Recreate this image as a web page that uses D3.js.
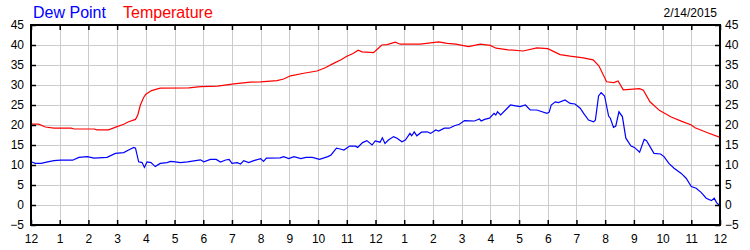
<!DOCTYPE html>
<html>
<head>
<meta charset="utf-8">
<title>Dew Point / Temperature</title>
<script src="https://d3js.org/d3.v7.min.js"></script>
<style>
  body { margin: 0; background: #fff; }
  svg text { font-family: Arial, "Liberation Sans", sans-serif; }
</style>
</head>
<body>
<div id="chart"></div>
<script>
// hours since midnight, readings in degrees
var tempHours = [0, 0.27, 0.5, 0.8, 1.4, 1.5, 2.2, 2.3, 2.7, 3.0, 3.23, 3.4, 3.64, 3.72, 3.81, 3.92, 4.0, 4.2, 4.5, 5.5,
  5.9, 6.5, 7.07, 7.64, 8.0, 8.57, 8.8, 9.04, 9.55, 9.96, 10.25, 10.54, 10.8, 11.0, 11.2, 11.4, 11.53, 11.93, 12.1, 12.22,
  12.4, 12.69, 12.86, 13.56, 14.2, 14.5, 14.8, 15.24, 15.65, 16.0, 16.2, 16.62, 17.14, 17.62, 18.0, 18.43, 18.78, 19.24, 19.58, 19.78,
  20.05, 20.3, 20.45, 20.63, 21.2, 21.33, 21.56, 21.9, 22.3, 22.67, 23.0, 23.13, 23.59, 24];
var tempValues = [20.2, 20.2, 19.5, 19.2, 19.2, 19.0, 19.0, 18.8, 18.8, 19.6, 20.2, 20.8, 21.4, 22.5, 25.0, 26.8, 27.7, 28.6, 29.2, 29.3,
  29.6, 29.7, 30.3, 30.7, 30.8, 31.1, 31.5, 32.3, 33.0, 33.5, 34.3, 35.4, 36.3, 37.2, 37.8, 38.7, 38.3, 38.1, 39.2, 40.0,
  40.1, 40.7, 40.2, 40.2, 40.8, 40.4, 40.2, 39.6, 40.2, 39.9, 39.2, 38.8, 38.5, 39.3, 39.1, 37.6, 37.2, 36.8, 36.3, 34.8,
  30.8, 30.6, 31.0, 28.8, 29.1, 28.7, 25.8, 23.6, 22.0, 20.9, 20.0, 19.3, 18.0, 16.9];

var dewHours = [0, 0.15, 0.35, 0.58, 0.8, 1.03, 1.45, 1.67, 1.96, 2.2, 2.65, 2.94, 3.23, 3.4, 3.58, 3.64, 3.75, 3.87, 3.95, 4.04,
  4.18, 4.33, 4.5, 4.74, 4.86, 5.03, 5.2, 5.45, 5.9, 6.02, 6.25, 6.45, 6.6, 6.78, 6.9, 7.0, 7.18, 7.3, 7.41, 7.58,
  7.76, 8.0, 8.1, 8.2, 8.68, 8.8, 8.98, 9.16, 9.4, 9.58, 9.8, 10.05, 10.34, 10.45, 10.64, 10.77, 10.9, 11.1, 11.3, 11.38,
  11.55, 11.7, 11.88, 11.99, 12.16, 12.24, 12.33, 12.45, 12.63, 12.75, 12.92, 13.04, 13.2, 13.26, 13.35, 13.44, 13.6, 13.8, 13.92, 14.1,
  14.2, 14.4, 14.57, 14.75, 14.92, 15.1, 15.45, 15.62, 15.68, 15.8, 15.97, 16.13, 16.19, 16.25, 16.36, 16.7, 16.88, 17.04, 17.22, 17.39,
  17.62, 17.97, 18.05, 18.12, 18.26, 18.37, 18.6, 18.78, 18.95, 19.13, 19.25, 19.42, 19.6, 19.66, 19.77, 19.86, 19.98, 20.12, 20.18, 20.29,
  20.37, 20.48, 20.6, 20.72, 20.9, 21.02, 21.2, 21.36, 21.44, 21.7, 21.93, 22.05, 22.22, 22.4, 22.65, 22.82, 23.0, 23.17, 23.35, 23.52,
  23.7, 23.8, 23.88, 24];
var dewValues = [10.8, 10.4, 10.4, 10.8, 11.1, 11.2, 11.2, 11.9, 12.1, 11.7, 11.9, 12.9, 13.1, 13.75, 14.4, 14.2, 10.8, 10.6, 9.4, 10.75,
  10.6, 9.6, 10.4, 10.6, 10.9, 10.8, 10.6, 10.8, 11.3, 10.8, 11.4, 11.4, 10.75, 11.25, 11.4, 10.4, 10.6, 10.25, 11.1, 10.6,
  11.1, 11.6, 10.9, 11.7, 11.8, 12.1, 11.6, 12.1, 11.6, 11.9, 11.9, 11.4, 12.1, 12.5, 14.2, 14.0, 13.75, 14.75, 14.7, 14.4,
  15.6, 16.1, 15.0, 16.0, 15.7, 16.8, 15.4, 16.25, 17.1, 16.7, 15.8, 16.25, 17.9, 17.3, 18.3, 17.3, 18.2, 18.3, 17.9, 18.75,
  18.5, 19.2, 19.2, 19.8, 20.2, 21.1, 21.0, 21.5, 21.0, 21.4, 21.7, 22.9, 22.5, 23.3, 22.5, 25.0, 24.8, 24.6, 25.0, 23.75,
  23.75, 22.9, 23.2, 25.0, 25.8, 25.6, 26.25, 25.4, 25.25, 24.2, 22.9, 21.25, 20.8, 21.25, 27.25, 28.1, 27.25, 22.25, 21.7, 19.4,
  19.75, 23.3, 22.1, 16.7, 14.75, 14.4, 13.2, 16.4, 16.1, 12.9, 12.75, 12.1, 10.4, 9.2, 7.9, 6.7, 4.6, 4.2, 3.1, 1.7,
  1.1, 1.7, 0.6, -0.2];

var hourTicks = d3.range(0, 25);
var hourLabels = ["12","1","2","3","4","5","6","7","8","9","10","11","12","1","2","3","4","5","6","7","8","9","10","11","12"];
var valueTicks = [-5, 0, 5, 10, 15, 20, 25, 30, 35, 40, 45];

var width = 750, height = 250;
var plotLeft = 31, plotRight = 720, plotTop = 25, plotBottom = 225;

var svg = d3.select("#chart").append("svg")
    .attr("width", width)
    .attr("height", height);

svg.append("rect").attr("width", width).attr("height", height).attr("fill", "#fff");

var x = d3.scaleLinear().domain([0, 24]).range([plotLeft, plotRight]);
var y = d3.scaleLinear().domain([-5, 45]).range([plotBottom, plotTop]);

// grid
var grid = svg.append("g").attr("stroke", "#cccccc").attr("stroke-width", 1);
grid.selectAll(".vg").data(hourTicks.slice(1, -1)).enter().append("line")
    .attr("x1", function(d) { return Math.round(x(d)) + 0.5; })
    .attr("x2", function(d) { return Math.round(x(d)) + 0.5; })
    .attr("y1", plotTop).attr("y2", plotBottom);
grid.selectAll(".hg").data(valueTicks.slice(1, -1)).enter().append("line")
    .attr("y1", function(d) { return y(d) + 0.5; })
    .attr("y2", function(d) { return y(d) + 0.5; })
    .attr("x1", plotLeft).attr("x2", plotRight);

// series
var line = d3.line()
    .x(function(d) { return x(d[0]); })
    .y(function(d) { return y(d[1]); });

svg.append("path")
    .datum(d3.zip(tempHours, tempValues))
    .attr("fill", "none")
    .attr("stroke", "#ff0000")
    .attr("stroke-width", 1.2)
    .attr("d", line);

svg.append("path")
    .datum(d3.zip(dewHours, dewValues))
    .attr("fill", "none")
    .attr("stroke", "#0000ff")
    .attr("stroke-width", 1.2)
    .attr("d", line);

// axes
function styleAxis(g) {
  g.select(".domain").remove();
  g.selectAll(".tick line").attr("stroke", "#000").attr("stroke-width", 1.5);
  g.selectAll(".tick text").attr("fill", "#000").style("font-size", "12px");
}

svg.append("g")
    .attr("transform", "translate(0," + plotBottom + ")")
    .call(d3.axisBottom(x).tickValues(hourTicks)
      .tickFormat(function(d) { return hourLabels[d]; })
      .tickSizeInner(-5).tickSizeOuter(0).tickPadding(9))
    .call(styleAxis);

svg.append("g")
    .attr("transform", "translate(0," + plotTop + ")")
    .call(d3.axisTop(x).tickValues(hourTicks).tickFormat("")
      .tickSizeInner(-5).tickSizeOuter(0))
    .call(styleAxis);

svg.append("g")
    .attr("transform", "translate(" + plotLeft + ",0)")
    .call(d3.axisLeft(y).tickValues(valueTicks)
      .tickSizeInner(-5).tickSizeOuter(0).tickPadding(7))
    .call(styleAxis);

svg.append("g")
    .attr("transform", "translate(" + plotRight + ",0)")
    .call(d3.axisRight(y).tickValues(valueTicks)
      .tickSizeInner(-5).tickSizeOuter(0).tickPadding(5))
    .call(styleAxis);

svg.append("rect")
    .attr("x", plotLeft).attr("y", plotTop)
    .attr("width", plotRight - plotLeft).attr("height", plotBottom - plotTop)
    .attr("fill", "none").attr("stroke", "#000").attr("stroke-width", 2);

// titles
svg.append("text").attr("x", 33).attr("y", 18)
    .attr("fill", "#0000ff").style("font-size", "16px").text("Dew Point");
svg.append("text").attr("x", 123).attr("y", 18)
    .attr("fill", "#ff0000").style("font-size", "16px").text("Temperature");
svg.append("text").attr("x", 717).attr("y", 17)
    .attr("text-anchor", "end").attr("fill", "#000").style("font-size", "12px").text("2/14/2015");
</script>
</body>
</html>
